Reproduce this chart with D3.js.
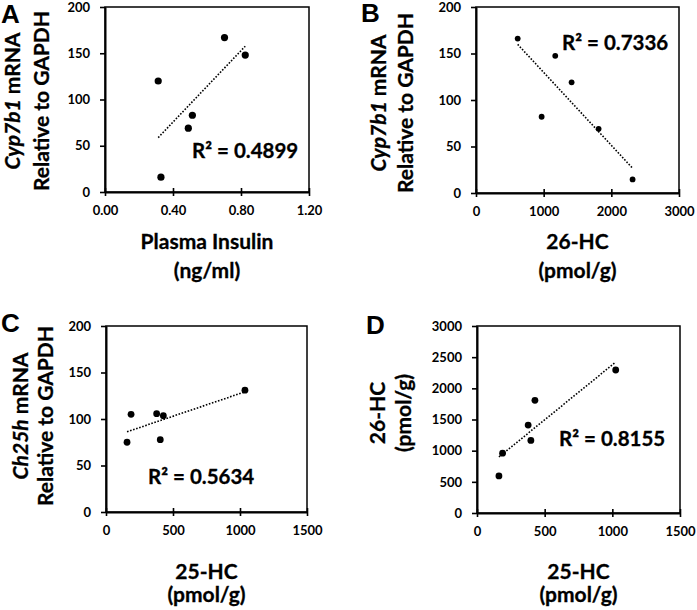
<!DOCTYPE html>
<html><head><meta charset="utf-8">
<script src="https://cdn.jsdelivr.net/npm/d3@7"></script>
<style>
html,body{margin:0;padding:0;background:#fff;}
svg{display:block;font-family:Lato,"Open Sans",sans-serif;font-weight:bold;}
</style></head><body>
<svg id="chart" width="697" height="610"></svg>
<script>
// ---- Data ----
// Panel A: Plasma insulin vs Cyp7b1 mRNA
const insulinA = [0.313, 0.329, 0.490, 0.514, 0.703, 0.825];
const cyp7b1A  = [120, 16, 69, 83, 167, 148];
// Panel B: 26-HC vs Cyp7b1 mRNA
const hc26B    = [616, 970, 1171, 1413, 1812, 2314];
const cyp7b1B  = [166, 82, 147.5, 119, 69, 14.6];
// Panel C: 25-HC vs Ch25h mRNA
const hc25C    = [157, 187, 378, 405, 428, 1037];
const ch25hC   = [75, 105, 105.7, 77.8, 103.5, 131];
// Panel D: 25-HC vs 26-HC
const hc25D    = [162, 189, 378, 398, 428, 1025];
const hc26D    = [595, 960, 1410, 1164, 1807, 2294];

// Tick values / labels
const xTicksA = [0, 0.4, 0.8, 1.2];
const xTicksB = [0, 1000, 2000, 3000];
const xTicksCD = [0, 500, 1000, 1500];
const yTicksMRNA = [0, 50, 100, 150, 200];
const yTicksD = [0, 500, 1000, 1500, 2000, 2500, 3000];
const r2Labels = ["R\u00B2 = 0.4899", "R\u00B2 = 0.7336", "R\u00B2 = 0.5634", "R\u00B2 = 0.8155"];
const panelLetters = ["A", "B", "C", "D"];

const svg = d3.select("#chart");
const intFmt = d3.format("d");

const panels = [
  {letter: panelLetters[0], xs: insulinA, ys: cyp7b1A, xDom: [0, 1.2], xTicks: xTicksA, xFmt: d3.format(".2f"),
   yDom: [0, 200], yTicks: yTicksMRNA, r2: r2Labels[0],
   box: {l: 105, t: 7, r: 309, b: 192}, dotR: 3.6,
   yTitle: [[["Cyp7b1", true], [" mRNA", false]], [["Relative to GAPDH", false]]], yTitleX: [20, 49], yTitleCY: 101,
   xTitle: ["Plasma Insulin", "(ng/ml)"], xTitleY: [249, 278],
   r2Pos: [192, 158], letterPos: [1, 23]},
  {letter: panelLetters[1], xs: hc26B, ys: cyp7b1B, xDom: [0, 3000], xTicks: xTicksB, xFmt: intFmt,
   yDom: [0, 200], yTicks: yTicksMRNA, r2: r2Labels[1],
   box: {l: 476, t: 7, r: 679, b: 193}, dotR: 2.9,
   yTitle: [[["Cyp7b1", true], [" mRNA", false]], [["Relative to GAPDH", false]]], yTitleX: [386, 413], yTitleCY: 103,
   xTitle: ["26-HC", "(pmol/g)"], xTitleY: [249, 278],
   r2Pos: [562, 50], letterPos: [361, 22]},
  {letter: panelLetters[2], xs: hc25C, ys: ch25hC, xDom: [0, 1500], xTicks: xTicksCD, xFmt: intFmt,
   yDom: [0, 200], yTicks: yTicksMRNA, r2: r2Labels[2],
   box: {l: 106, t: 326, r: 307, b: 512}, dotR: 3.4,
   yTitle: [[["Ch25h", true], [" mRNA", false]], [["Relative to GAPDH", false]]], yTitleX: [28, 53], yTitleCY: 416,
   xTitle: ["25-HC", "(pmol/g)"], xTitleY: [579, 602],
   r2Pos: [148, 484], letterPos: [1, 332]},
  {letter: panelLetters[3], xs: hc25D, ys: hc26D, xDom: [0, 1500], xTicks: xTicksCD, xFmt: intFmt,
   yDom: [0, 3000], yTicks: yTicksD, r2: r2Labels[3],
   box: {l: 477, t: 326, r: 680, b: 513}, dotR: 3.4,
   yTitle: [[["26-HC", false]], [["(pmol/g)", false]]], yTitleX: [385, 411], yTitleCY: 413,
   xTitle: ["25-HC", "(pmol/g)"], xTitleY: [579, 602],
   r2Pos: [559, 446], letterPos: [366, 334]}
];

panels.forEach(p => {
  const b = p.box;
  const x = d3.scaleLinear().domain(p.xDom).range([b.l, b.r]);
  const y = d3.scaleLinear().domain(p.yDom).range([b.b, b.t]);
  const g = svg.append("g");

  // frame
  g.append("rect").attr("x", b.l).attr("y", b.t).attr("width", b.r - b.l).attr("height", b.b - b.t)
    .attr("fill", "none").attr("stroke", "#000").attr("stroke-width", 1.5);

  // y axis
  const ya = g.append("g").attr("transform", `translate(${b.l},0)`)
    .call(d3.axisLeft(y).tickValues(p.yTicks).tickFormat(intFmt).tickSize(5).tickSizeOuter(0).tickPadding(10));
  ya.select(".domain").attr("stroke-width", 2);
  ya.selectAll(".tick line").attr("stroke-width", 1.6);
  ya.selectAll(".tick text").attr("font-size", 13).attr("font-weight", "bold")
    .attr("font-family", "Lato, sans-serif").attr("fill", "#000");

  // x axis
  const xa = g.append("g").attr("transform", `translate(0,${b.b})`)
    .call(d3.axisBottom(x).tickValues(p.xTicks).tickFormat(p.xFmt).tickSize(4).tickSizeOuter(0));
  xa.select(".domain").attr("stroke-width", 2);
  xa.selectAll(".tick line").attr("y1", -4).attr("y2", 4).attr("stroke-width", 1.6);
  xa.selectAll(".tick text").attr("y", 23).attr("dy", 0).attr("font-size", 13).attr("font-weight", "bold")
    .attr("font-family", "Lato, sans-serif").attr("fill", "#000");

  // linear regression trend line (dotted), from min x to max x
  const n = p.xs.length;
  const mx = d3.mean(p.xs), my = d3.mean(p.ys);
  let sxy = 0, sxx = 0;
  for (let i = 0; i < n; i++) { sxy += (p.xs[i] - mx) * (p.ys[i] - my); sxx += (p.xs[i] - mx) ** 2; }
  const slope = sxy / sxx, icpt = my - slope * mx;
  const [x0, x1] = d3.extent(p.xs);
  g.append("line")
    .attr("x1", x(x0)).attr("y1", y(icpt + slope * x0))
    .attr("x2", x(x1)).attr("y2", y(icpt + slope * x1))
    .attr("stroke", "#000").attr("stroke-width", 1.6).attr("stroke-dasharray", "1.6,1.6");

  // points
  g.selectAll("circle.pt").data(p.xs.map((v, i) => [v, p.ys[i]])).join("circle")
    .attr("class", "pt").attr("cx", d => x(d[0])).attr("cy", d => y(d[1])).attr("r", p.dotR).attr("fill", "#000");

  // R² label
  g.append("text").attr("x", p.r2Pos[0]).attr("y", p.r2Pos[1]).attr("font-size", 20.5)
    .attr("fill", "#000").attr("stroke", "#000").attr("stroke-width", 0.3).text(p.r2);

  // x title
  p.xTitle.forEach((t, i) => {
    g.append("text").attr("x", (b.l + b.r) / 2).attr("y", p.xTitleY[i]).attr("text-anchor", "middle")
      .attr("font-size", 21).attr("fill", "#000").attr("stroke", "#000").attr("stroke-width", 0.3).text(t);
  });

  // y title (rotated)
  p.yTitle.forEach((parts, i) => {
    const t = g.append("text").attr("transform", `translate(${p.yTitleX[i]},${p.yTitleCY}) rotate(-90)`)
      .attr("text-anchor", "middle").attr("font-size", 21).attr("fill", "#000")
      .attr("stroke", "#000").attr("stroke-width", 0.3);
    parts.forEach(([s, it]) => t.append("tspan").attr("font-style", it ? "italic" : "normal").text(s));
  });

  // panel letter
  g.append("text").attr("x", p.letterPos[0]).attr("y", p.letterPos[1])
    .attr("font-family", "'Liberation Sans', Arial, sans-serif").attr("font-size", 26).attr("font-weight", "bold")
    .attr("fill", "#000").text(p.letter);
});
</script>
</body></html>
